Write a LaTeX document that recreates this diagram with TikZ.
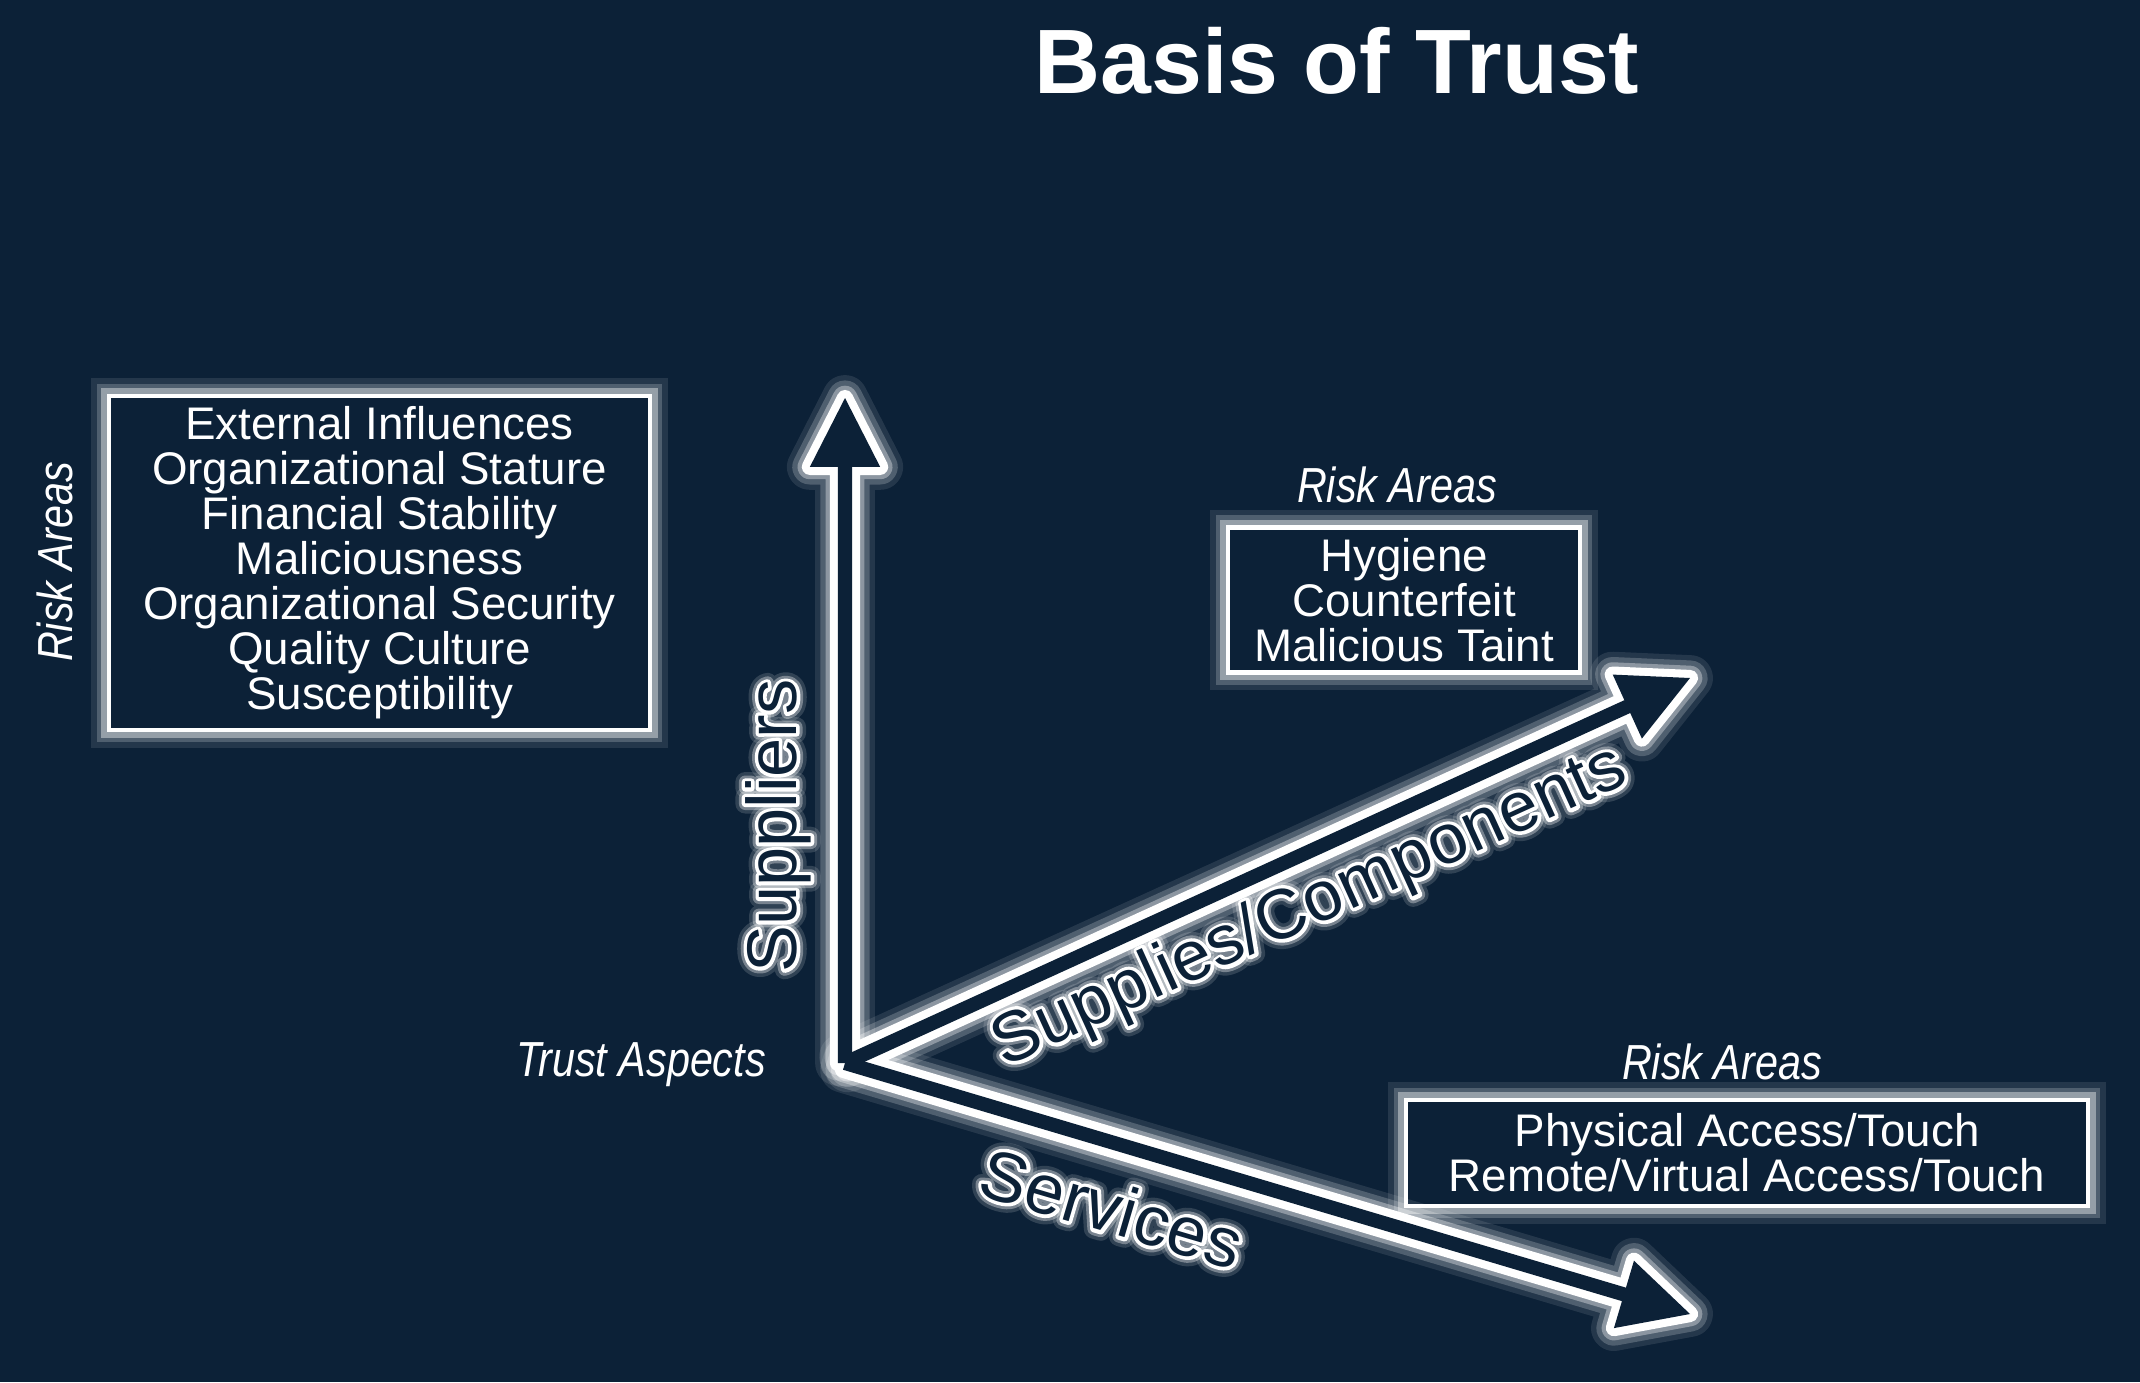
\documentclass[tikz,border=0pt]{standalone}
\usepackage{fontspec}
\setmainfont{Liberation Sans}
\newfontfamily\narrowfont[FakeStretch=0.84]{Liberation Sans}
\newfontfamily\haloouter[FakeBold=28]{Liberation Sans}
\newfontfamily\halomid[FakeBold=18]{Liberation Sans}
\newfontfamily\haloinner[FakeBold=10]{Liberation Sans}
\usetikzlibrary{calc, positioning}
\definecolor{bgnavy}{RGB}{12, 33, 55}
\newcommand{\arrowheadlen}{19.6pt}
\newcommand{\arrowheadhw}{10pt}
\newcommand{\arrowshafthw}{2pt}

% glow behind a fat arrow: from, tip, prefix
\newcommand{\glowarrow}[3]{%
  \coordinate (#3hb) at ($(#2)!\arrowheadlen!(#1)$);
  \coordinate (#3hl) at ($(#3hb)!\arrowheadhw!90:(#2)$);
  \coordinate (#3hr) at ($(#3hb)!\arrowheadhw!-90:(#2)$);
  \coordinate (#3sl) at ($(#3hb)!\arrowshafthw!90:(#2)$);
  \coordinate (#3sr) at ($(#3hb)!\arrowshafthw!-90:(#2)$);
  \coordinate (#3ol) at ($(#1)!\arrowshafthw!90:(#2)$);
  \coordinate (#3or) at ($(#1)!\arrowshafthw!-90:(#2)$);
  \foreach \w/\o in {13/0.1, 10/0.2, 7/0.35, 4.6/1}
    \draw[white, opacity=\o, line width=\w pt, line join=round]
      (#3ol) -- (#3sl) -- (#3hl) -- (#2) -- (#3hr) -- (#3sr) -- (#3or) -- cycle;
}
% body of the arrow: tip, prefix
\newcommand{\fillarrow}[2]{%
  \fill[bgnavy] (#2ol) -- (#2sl) -- (#2hl) -- (#1) -- (#2hr) -- (#2sr) -- (#2or) -- cycle;
}
% dark label with white halo: name, at, angle, text
\newcommand{\glowlabel}[4]{%
  \node[axislabel, text=white, text opacity=0.15, rotate=#3] (#1-o) at (#2)
    {\special{pdf:literal direct 1 j 1 J}\haloouter #4};
  \node[axislabel, text=white, text opacity=0.35, rotate=#3] (#1-m) at (#2)
    {\special{pdf:literal direct 1 j 1 J}\halomid #4};
  \node[axislabel, text=white, rotate=#3] (#1-i) at (#2)
    {\special{pdf:literal direct 1 j 1 J}\haloinner #4};
  \node[axislabel, rotate=#3] (#1) at (#2) {#4};
}

\begin{document}
\begin{tikzpicture}[x=0.01cm, y=-0.01cm,
    title/.style={text=white, font=\fontsize{26}{30}\selectfont\bfseries, inner sep=0pt},
    riskbox/.style={rectangle, draw=white, line width=1.2pt, fill=bgnavy, text=white,
      align=center, inner sep=0pt, font=\fontsize{13}{12.8}\selectfont,
      preaction={draw=white, draw opacity=0.1, line width=10pt},
      preaction={draw=white, draw opacity=0.2, line width=7pt},
      preaction={draw=white, draw opacity=0.4, line width=4.4pt}},
    risklabel/.style={text=white, font=\fontsize{14}{16}\selectfont\narrowfont\itshape, inner sep=0pt},
    axislabel/.style={text=bgnavy, font=\fontsize{20}{24}\selectfont, inner sep=0pt}]
  \useasboundingbox (0,0) rectangle (2140,1382);
  \fill[bgnavy] (0,0) rectangle (2140,1382);

  \node[title] (title) at (1337,61) {Basis of Trust};

  % risk area boxes
  \node[riskbox, minimum width=541*0.01cm, minimum height=334*0.01cm] (supbox) at (379.5,563)
    {External Influences\\Organizational Stature\\Financial Stability\\Maliciousness\\Organizational Security\\Quality Culture\\Susceptibility};
  \node[risklabel, rotate=90] (suprisk) at (55,562) {Risk Areas};

  \node[riskbox, minimum width=352*0.01cm, minimum height=145*0.01cm] (compbox) at (1404,600)
    {Hygiene\\Counterfeit\\Malicious Taint};
  \node[risklabel] (comprisk) at (1397,485) {Risk Areas};

  \node[riskbox, minimum width=682*0.01cm, minimum height=106*0.01cm] (servbox) at (1747,1153)
    {Physical Access/Touch\\Remote/Virtual Access/Touch};
  \node[risklabel] (servrisk) at (1722,1062) {Risk Areas};

  \node[risklabel] (aspects) at (641,1065) {Trust Aspects};

  % the three axes
  \coordinate (origin) at (845,1063);
  \coordinate (suptip) at (845,398);
  \coordinate (comptip) at (1690,678);
  \coordinate (servtip) at (1690,1314);

  \glowarrow{origin}{suptip}{sa}
  \glowarrow{origin}{comptip}{ca}
  \glowarrow{origin}{servtip}{va}
  \fillarrow{suptip}{sa}
  \fillarrow{comptip}{ca}
  \fillarrow{servtip}{va}

  % axis names
  \glowlabel{suplbl}{778,826}{90}{Suppliers}
  \glowlabel{complbl}{1310,908}{24.5}{Supplies/Components}
  \glowlabel{servlbl}{1112,1208}{-16.4}{Services}
\end{tikzpicture}
\end{document}
